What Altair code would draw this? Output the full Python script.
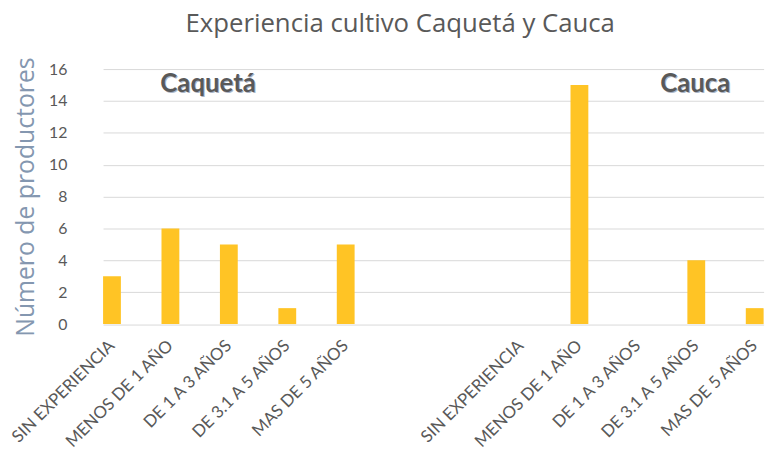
import altair as alt
import pandas as pd

title_text = "Experiencia cultivo Caquetá y Cauca"
y_title = "Número de productores"
categories = ["SIN EXPERIENCIA", "MENOS DE 1 AÑO", "DE 1 A 3 AÑOS", "DE 3.1 A 5 AÑOS", "MAS DE 5 AÑOS"]
regions = ["Caquetá", "Cauca"]
caqueta_values = [3, 6, 5, 1, 5]
cauca_values = [0, 15, 0, 4, 1]
gap_slots = ["gap1", "gap2"]

rows = []
for c, v in zip(categories, caqueta_values):
    rows.append({"key": f"Caquetá|{c}", "value": v})
for c, v in zip(categories, cauca_values):
    rows.append({"key": f"Cauca|{c}", "value": v})
df = pd.DataFrame(rows)
domain = [f"Caquetá|{c}" for c in categories] + gap_slots + [f"Cauca|{c}" for c in categories]

FONT = "Lato"
TFONT = "Open Sans"
GRAY = "#595959"

x_enc = alt.X(
    "key:N",
    scale=alt.Scale(domain=domain, range=[20.5, 687.5], paddingInner=0.695, paddingOuter=0, round=False),
    sort=domain,
    axis=alt.Axis(
        title=None,
        labelExpr="indexof(datum.label,'|')>=0 ? split(datum.label,'|')[1] : ''",
        labelAngle=-45,
        labelAlign="right",
        labelBaseline="middle",
        labelFont=FONT,
        labelFontSize=17,
        labelColor=GRAY,
        labelPadding=19,
        ticks=False,
        domain=False,
        grid=False,
        labelOverlap=False,
    ),
)

bars = alt.Chart(df).mark_bar(color="#FFC425").encode(
    x=x_enc,
    y=alt.Y(
        "value:Q",
        scale=alt.Scale(domain=[0, 16]),
        axis=alt.Axis(
            title=y_title,
            titleFont=TFONT,
            titleFontSize=25,
            titleFontWeight="normal",
            titleColor="#8497B0",
            titlePadding=10,
            values=[0, 2, 4, 6, 8, 10, 12, 14, 16],
            labelFont=FONT,
            labelFontSize=16,
            labelColor=GRAY,
            labelPadding=16,
            ticks=False,
            domain=False,
            gridColor="#D9D9D9",
            gridWidth=1,
        ),
    ),
)

ann = pd.DataFrame({"label": regions})


def ann_layer(color, off):
    out = []
    for name, xpos in zip(regions, [126.5, 618.5]):
        out.append(
            alt.Chart(ann[ann["label"] == name]).mark_text(
                font=FONT, fontSize=26, fontWeight="bold", color=color,
                baseline="alphabetic", align="center", dx=off, dy=off,
            ).encode(text="label:N", x=alt.value(xpos), y=alt.value(23))
        )
    return out


chart = alt.layer(bars, *ann_layer("#AAB6C8", 1), *ann_layer(GRAY, 0)).properties(
    width=700,
    height=257.5,
    title=alt.TitleParams(
        title_text, font=TFONT, fontSize=26, fontWeight="normal", color=GRAY,
        anchor="middle", dx=-29.5, offset=-1, baseline="alphabetic",
    ),
    autosize=alt.AutoSizeParams(type="none"),
    padding={"left": 75.5, "top": 59.5, "right": 0, "bottom": 127},
).configure_view(stroke=None)

chart.save("out.html", embed_options={"renderer": "svg", "actions": False})
